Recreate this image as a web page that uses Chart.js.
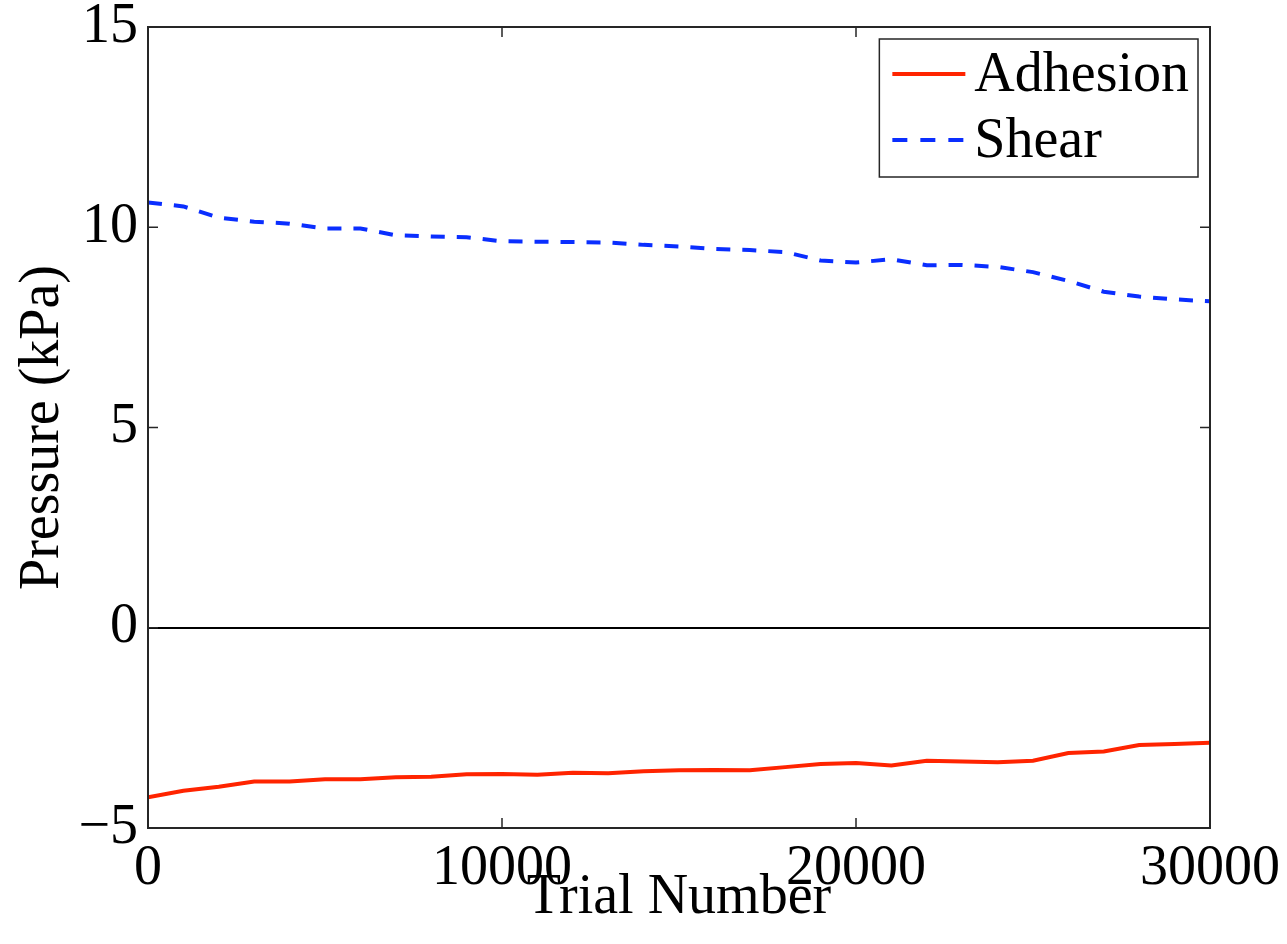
<!DOCTYPE html>
<html>
<head>
<meta charset="utf-8">
<script src="https://cdn.jsdelivr.net/npm/chart.js@4"></script>
<style>
  html, body { margin: 0; padding: 0; background: #fff; }
  #wrap { width: 1287px; height: 944px; }
</style>
</head>
<body>
<div id="wrap"><canvas id="pressureChart" width="1287" height="944"></canvas></div>
<script>
// Trial numbers, sampled every 1000 trials
const trials = [0, 1000, 2000, 3000, 4000, 5000, 6000, 7000, 8000, 9000, 10000,
  11000, 12000, 13000, 14000, 15000, 16000, 17000, 18000, 19000, 20000,
  21000, 22000, 23000, 24000, 25000, 26000, 27000, 28000, 29000, 30000];

// Pressure values (kPa)
const adhesion = [-4.23, -4.07, -3.97, -3.84, -3.84, -3.78, -3.78, -3.73, -3.72, -3.66, -3.65,
  -3.67, -3.62, -3.63, -3.58, -3.56, -3.55, -3.56, -3.48, -3.40, -3.38,
  -3.44, -3.32, -3.34, -3.36, -3.32, -3.13, -3.09, -2.93, -2.90, -2.87];
const shear = [10.62, 10.52, 10.24, 10.14, 10.09, 9.97, 9.97, 9.80, 9.77, 9.75, 9.65,
  9.64, 9.63, 9.62, 9.56, 9.52, 9.46, 9.43, 9.38, 9.17, 9.12,
  9.20, 9.05, 9.06, 9.01, 8.88, 8.66, 8.39, 8.27, 8.20, 8.15];

const xTicks = [0, 10000, 20000, 30000];
const yTicks = [-5, 0, 5, 10, 15];

const seriesNames = ['Adhesion', 'Shear'];
const seriesColors = ['#ff2400', '#0a2eff'];
const shearDash = [14, 12];
const fontFamily = '"Liberation Serif", "Times New Roman", serif';
const fontSize = 56;

// Box, inward ticks and legend drawn MATLAB style
const frameAndLegend = {
  id: 'frameAndLegend',
  afterDraw(chart) {
    const ctx = chart.ctx;
    const area = chart.chartArea;
    const xs = chart.scales.x;
    const ys = chart.scales.y;
    ctx.save();
    ctx.strokeStyle = '#262626';
    ctx.lineWidth = 2;
    ctx.strokeRect(area.left, area.top, area.right - area.left, area.bottom - area.top);

    const tickLen = 10;
    ctx.lineWidth = 1.5;
    ctx.beginPath();
    xTicks.forEach(v => {
      const px = xs.getPixelForValue(v);
      ctx.moveTo(px, area.bottom); ctx.lineTo(px, area.bottom - tickLen);
      ctx.moveTo(px, area.top); ctx.lineTo(px, area.top + tickLen);
    });
    yTicks.forEach(v => {
      const py = ys.getPixelForValue(v);
      ctx.moveTo(area.left, py); ctx.lineTo(area.left + tickLen, py);
      ctx.moveTo(area.right, py); ctx.lineTo(area.right - tickLen, py);
    });
    ctx.stroke();

    // legend box in the upper right corner
    ctx.font = fontSize + 'px ' + fontFamily;
    const textW = Math.max(...seriesNames.map(n => ctx.measureText(n).width));
    const boxRight = area.right - 12;
    const boxTop = area.top + 12;
    const boxW = textW + 104;
    const boxH = 138;
    const boxLeft = boxRight - boxW;
    ctx.fillStyle = '#fff';
    ctx.fillRect(boxLeft, boxTop, boxW, boxH);
    ctx.strokeStyle = '#262626';
    ctx.lineWidth = 1.5;
    ctx.strokeRect(boxLeft, boxTop, boxW, boxH);

    seriesNames.forEach((name, i) => {
      const rowY = boxTop + 35 + i * 66;
      ctx.strokeStyle = seriesColors[i];
      ctx.lineWidth = 4;
      ctx.setLineDash(i === 1 ? [15, 13] : []);
      ctx.beginPath();
      ctx.moveTo(boxLeft + 13, rowY);
      ctx.lineTo(boxLeft + 86, rowY);
      ctx.stroke();
      ctx.setLineDash([]);
      ctx.fillStyle = '#000';
      ctx.textBaseline = 'middle';
      ctx.textAlign = 'left';
      ctx.fillText(name, boxLeft + 95, rowY + 2);
    });
    ctx.restore();
  }
};

const ctx = document.getElementById('pressureChart').getContext('2d');
new Chart(ctx, {
  type: 'line',
  data: {
    datasets: [
      {
        label: seriesNames[0],
        data: trials.map((t, i) => ({ x: t, y: adhesion[i] })),
        borderColor: seriesColors[0],
        borderWidth: 4,
        pointRadius: 0,
        tension: 0,
        fill: false
      },
      {
        label: seriesNames[1],
        data: trials.map((t, i) => ({ x: t, y: shear[i] })),
        borderColor: seriesColors[1],
        borderWidth: 4,
        borderDash: shearDash,
        pointRadius: 0,
        tension: 0,
        fill: false
      }
    ]
  },
  options: {
    responsive: false,
    animation: false,
    layout: { padding: { top: 27, right: 77, bottom: 0, left: 0 } },
    plugins: {
      legend: { display: false },
      tooltip: { enabled: false }
    },
    scales: {
      x: {
        type: 'linear',
        min: 0,
        max: 30000,
        afterBuildTicks: scale => { scale.ticks = xTicks.map(v => ({ value: v })); },
        afterFit: scale => {
          scale.height = 116;
          scale.paddingLeft = 0;
          scale.paddingRight = 0;
        },
        grid: { display: false, drawTicks: false },
        border: { display: false },
        ticks: {
          color: '#000',
          font: { family: fontFamily, size: fontSize },
          padding: 8,
          maxRotation: 0,
          callback: v => String(v)
        },
        title: {
          display: true,
          text: 'Trial Number',
          color: '#000',
          font: { family: fontFamily, size: fontSize },
          padding: { top: 0, bottom: 12 }
        }
      },
      y: {
        type: 'linear',
        min: -5,
        max: 15,
        afterBuildTicks: scale => { scale.ticks = yTicks.map(v => ({ value: v })); },
        afterFit: scale => {
          scale.width = 148;
          scale.paddingTop = 0;
          scale.paddingBottom = 0;
        },
        grid: {
          drawTicks: false,
          color: c => (c.tick && c.tick.value === 0 ? '#000' : 'rgba(0,0,0,0)'),
          lineWidth: 2
        },
        border: { display: false },
        ticks: {
          color: '#000',
          font: { family: fontFamily, size: fontSize },
          padding: 10,
          callback: v => (v < 0 ? '\u2212' + Math.abs(v) : String(v))
        },
        title: {
          display: true,
          text: 'Pressure (kPa)',
          color: '#000',
          font: { family: fontFamily, size: fontSize },
          padding: { top: 10, bottom: 0 }
        }
      }
    }
  },
  plugins: [frameAndLegend]
});
</script>
</body>
</html>
